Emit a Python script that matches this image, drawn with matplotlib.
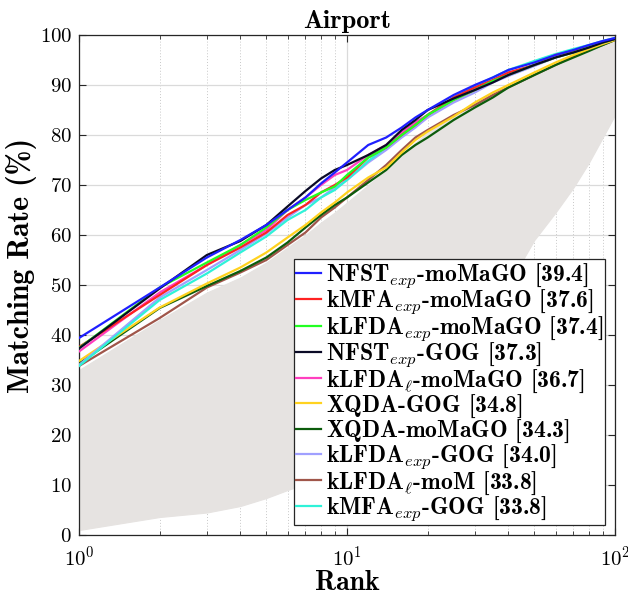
import matplotlib
matplotlib.use("Agg")
import matplotlib.pyplot as plt
from matplotlib.font_manager import FontProperties
from matplotlib.ticker import LogLocator, NullFormatter, FixedLocator

plt.rcParams["mathtext.fontset"] = "cm"
plt.rcParams["font.family"] = "serif"
plt.rcParams["font.serif"] = ["cmr10"]
plt.rcParams["axes.formatter.use_mathtext"] = True

# Ranks at which the CMC curves are sampled
ranks = [1, 2, 3, 4, 5, 6, 7, 8, 9, 10, 12, 14, 16, 18, 20, 25, 30, 35, 40, 50, 60, 70, 80, 90, 100]

nfst_exp_momago = [39.4, 49.5, 55.5, 59.0, 62.0, 65.0, 67.5, 70.3, 72.5, 74.5, 78.0, 79.5, 81.5, 83.5, 85.0, 88.0, 90.0, 91.5, 93.0, 94.5, 96.0, 97.0, 98.0, 98.8, 99.4]
kmfa_exp_momago = [37.6, 48.0, 54.0, 57.5, 60.5, 64.0, 66.0, 68.5, 70.0, 71.5, 75.5, 77.5, 80.0, 82.0, 84.0, 87.5, 89.5, 91.0, 92.5, 94.0, 96.0, 96.8, 97.8, 98.6, 99.2]
klfda_exp_momago = [37.4, 49.5, 54.5, 58.0, 61.5, 65.0, 67.0, 68.5, 69.7, 72.0, 75.5, 77.5, 80.0, 82.0, 84.0, 87.0, 89.0, 90.8, 92.0, 94.0, 95.5, 96.5, 97.6, 98.5, 99.2]
nfst_exp_gog = [37.3, 49.3, 56.0, 58.8, 62.0, 65.7, 68.8, 71.3, 73.0, 74.0, 76.0, 78.0, 81.0, 83.0, 85.0, 87.3, 89.0, 90.5, 92.0, 94.0, 95.5, 96.5, 97.5, 98.5, 99.2]
klfda_l_momago = [36.7, 48.5, 54.0, 58.0, 61.0, 65.0, 67.5, 70.0, 72.0, 73.0, 76.0, 78.0, 80.5, 82.5, 84.0, 87.0, 89.0, 90.8, 92.0, 94.0, 95.5, 96.6, 97.6, 98.5, 99.2]
xqda_gog = [34.8, 45.5, 50.3, 53.5, 56.5, 59.5, 62.0, 64.5, 66.5, 68.5, 71.5, 73.5, 76.5, 79.0, 80.7, 83.7, 86.5, 88.5, 90.0, 92.5, 94.5, 96.0, 97.2, 98.2, 99.0]
xqda_momago = [34.3, 45.4, 49.8, 52.8, 55.5, 58.5, 61.5, 64.0, 66.0, 67.5, 70.5, 73.0, 76.0, 78.0, 79.5, 83.0, 85.5, 87.5, 89.5, 92.0, 94.0, 95.5, 96.8, 98.0, 99.0]
klfda_exp_gog = [34.0, 47.5, 53.0, 57.0, 60.3, 63.5, 66.0, 67.5, 69.5, 71.0, 74.5, 77.0, 79.5, 81.5, 83.5, 86.5, 88.5, 90.5, 91.8, 93.8, 95.5, 96.6, 97.6, 98.5, 99.2]
klfda_l_mom = [33.8, 43.4, 49.5, 52.5, 55.0, 58.0, 60.5, 63.5, 65.5, 67.5, 71.0, 74.0, 77.0, 79.5, 81.0, 84.0, 86.0, 88.0, 89.5, 92.0, 94.0, 95.8, 97.0, 98.0, 99.0]
kmfa_exp_gog = [33.8, 47.0, 52.3, 56.5, 59.7, 63.0, 65.0, 67.5, 69.0, 71.0, 74.8, 77.5, 80.5, 82.5, 84.0, 87.5, 89.8, 91.5, 93.0, 94.8, 96.2, 97.2, 98.0, 98.8, 99.4]

# Envelope of all remaining (background) methods
others_upper = [33.0, 43.0, 48.5, 51.5, 54.5, 57.5, 60.0, 62.5, 64.5, 66.5, 70.0, 73.0, 76.0, 78.5, 80.5, 84.0, 86.5, 88.5, 90.0, 92.5, 94.5, 96.0, 97.2, 98.3, 99.2]
others_lower = [1.0, 3.6, 4.5, 5.8, 7.4, 9.0, 10.2, 11.5, 12.8, 14.0, 16.5, 19.0, 21.5, 24.0, 26.0, 32.0, 38.0, 44.0, 50.0, 59.0, 64.5, 69.5, 74.5, 79.5, 84.0]

# every label is laid out by mathtext so that all legend rows get the same height
labels = [
    r"NFST$_{exp}$-moMaGO [39.4]",
    r"kMFA$_{exp}$-moMaGO [37.6]",
    r"kLFDA$_{exp}$-moMaGO [37.4]",
    r"NFST$_{exp}$-GOG [37.3]",
    r"kLFDA$_{\ell}$-moMaGO [36.7]",
    r"XQDA-GOG [34.8]$\,$",
    r"XQDA-moMaGO [34.3]$\,$",
    r"kLFDA$_{exp}$-GOG [34.0]",
    r"kLFDA$_{\ell}$-moM [33.8]",
    r"kMFA$_{exp}$-GOG [33.8]",
]
series = [nfst_exp_momago, kmfa_exp_momago, klfda_exp_momago, nfst_exp_gog,
          klfda_l_momago, xqda_gog, xqda_momago, klfda_exp_gog, klfda_l_mom, kmfa_exp_gog]
colors = ["#1f1fff", "#ff2222", "#22ff22", "#0a0a26", "#ff3fbf",
          "#ffd21f", "#0c5c0c", "#a0a0ff", "#a0564a", "#2ff2d8"]

fig = plt.figure(figsize=(6.28, 5.95), dpi=100)
ax = fig.add_axes([0.1258, 0.1008, 0.8535, 0.8404])

ax.fill_between(ranks, others_lower, others_upper, color="#e6e3e1", lw=0.8,
                edgecolor="#e6e3e1", zorder=1)

draw_order = [8, 6, 5, 7, 9, 4, 1, 2, 3, 0]
handles = {}
for i in draw_order:
    (h,) = ax.plot(ranks, series[i], color=colors[i], lw=1.6, zorder=3)
    handles[i] = h

ax.set_xscale("log")
ax.set_xlim(1, 100)
ax.set_ylim(0, 100)
ax.set_yticks(range(0, 101, 10))
ax.xaxis.set_major_locator(FixedLocator([1, 10, 100]))
ax.xaxis.set_minor_locator(LogLocator(base=10, subs=range(2, 10)))
ax.xaxis.set_minor_formatter(NullFormatter())

ax.set_axisbelow(True)
ax.grid(which="major", color="#dadada", lw=0.9, ls="-")
ax.grid(which="minor", axis="x", color="#c8c8c8", lw=0.7, ls=(0, (1, 2)))

ax.tick_params(which="both", direction="in", top=True, right=True, color="#262626")
ax.tick_params(which="major", length=5, width=0.8, labelsize=15, pad=5)
ax.tick_params(axis="x", which="major", pad=7.5)
ax.tick_params(which="minor", length=3, width=0.6)
for s in ax.spines.values():
    s.set_color("#262626")
    s.set_linewidth(0.9)

bold = dict(family="cmb10")
ax.set_title("Airport", fontsize=19, pad=5, **bold)
ax.set_xlabel("Rank", fontsize=20, labelpad=0, **bold)
ax.set_ylabel("Matching Rate (%)", fontsize=21.5, **bold)
ax.yaxis.set_label_coords(-0.078, 0.54)

leg = ax.legend([handles[i] for i in range(10)], labels,
                prop=FontProperties(family="cmb10", size=17),
                loc="lower right", bbox_to_anchor=(0.981, 0.02), borderaxespad=0,
                handlelength=1.05, handletextpad=0.2, labelspacing=-0.085,
                borderpad=0.08, fancybox=False, framealpha=1, edgecolor="#262626")
leg.get_frame().set_linewidth(0.9)
leg.set_zorder(5)

fig.savefig("out.png", dpi=100)
